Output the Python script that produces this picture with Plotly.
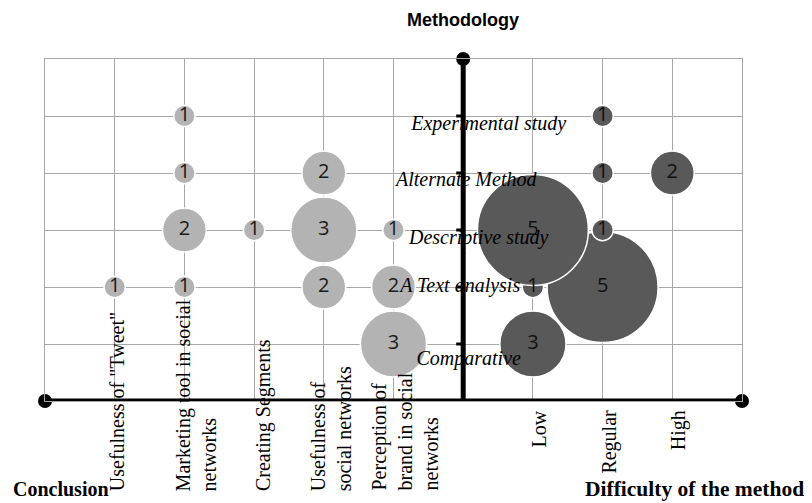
import plotly.graph_objects as go

# ---------------- data ----------------
conclusion_categories = ['Usefulness of "Tweet"',
                         'Marketing tool in social<br>networks',
                         'Creating Segments',
                         'Usefulness of<br>social networks',
                         'Perception of<br>brand in social<br>networks']
difficulty_categories = ['Low', 'Regular', 'High']
methodology_levels = ['Comparative', 'A Text analysis', 'Descriptive study',
                      'Alternate Method', 'Experimental study']

# Conclusion series (light bubbles): category index, methodology, count
conc_cat = [0, 1, 1, 1, 1, 2, 3, 3, 3, 4, 4, 4]
conc_meth = ['A Text analysis', 'Experimental study', 'Alternate Method', 'Descriptive study',
             'A Text analysis', 'Descriptive study', 'Alternate Method', 'Descriptive study',
             'A Text analysis', 'Descriptive study', 'A Text analysis', 'Comparative']
conc_count = [1, 1, 1, 2, 1, 1, 2, 3, 2, 1, 2, 3]

# Difficulty series (dark bubbles)
diff_cat = ['Regular', 'Low', 'Low', 'Low', 'Regular', 'Regular', 'Regular', 'High']
diff_meth = ['A Text analysis', 'A Text analysis', 'Comparative', 'Descriptive study',
             'Descriptive study', 'Alternate Method', 'Experimental study', 'Alternate Method']
diff_count = [5, 1, 3, 5, 1, 1, 1, 2]

# ---------------- layout helpers ----------------
# page body has an 8px margin, so the figure is 8px smaller and margins shifted
W, H = 804, 495
ML, MR, MT, MB = 37, 70, 51, 102
XMIN, XMAX, YMIN, YMAX = -6, 4, 0, 6
PXX = (W - ML - MR) / (XMAX - XMIN)
PXY = (H - MT - MB) / (YMAX - YMIN)

def conc_x(i):
    return i - 5

def diff_x(name):
    return difficulty_categories.index(name) + 1

def level_y(name):
    return methodology_levels.index(name) + 1

BUB = 22.4  # px diameter per unit count

fig = go.Figure()

fig.add_trace(go.Scatter(
    x=[conc_x(i) for i in conc_cat],
    y=[level_y(m) for m in conc_meth],
    mode='markers+text', text=[str(c) for c in conc_count],
    textposition='middle center',
    textfont=dict(family='Open Sans', size=20, color='#1a1a1a'),
    marker=dict(size=[c * BUB - 1 for c in conc_count], sizemode='diameter',
                color='#b3b3b3', opacity=1, line=dict(color='white', width=1.5)),
    showlegend=False, cliponaxis=False))

fig.add_trace(go.Scatter(
    x=[diff_x(c) for c in diff_cat],
    y=[level_y(m) for m in diff_meth],
    mode='markers+text', text=[str(c) for c in diff_count],
    textposition='middle center',
    textfont=dict(family='Open Sans', size=20, color='#111111'),
    marker=dict(size=[c * BUB - 1 for c in diff_count], sizemode='diameter',
                color='#595959', opacity=1, line=dict(color='white', width=1.5)),
    showlegend=False, cliponaxis=False))

# methodology labels (text trace above bubbles, below the black axes)
lab_dx = [5.5, -3, 15.5, 3, 25.5]
lab_dy = [-16, 0, -8.7, -7.6, -8.5]
fig.add_trace(go.Scatter(
    x=[dx / PXX for dx in lab_dx],
    y=[k + 1 + dy / PXY for k, dy in enumerate(lab_dy)],
    mode='text', text=methodology_levels, textposition='middle center',
    textfont=dict(family='Liberation Serif', size=20, color='black', style='italic'),
    hoverinfo='skip', showlegend=False, cliponaxis=False))

# axis end dots
fig.add_trace(go.Scatter(
    x=[XMIN, XMAX, 0], y=[0, 0, YMAX], mode='markers',
    marker=dict(size=14, color='black'), hoverinfo='skip',
    showlegend=False, cliponaxis=False))

shapes = []
shapes.append(dict(type='line', xref='x', yref='y', x0=XMIN, x1=XMAX, y0=0, y1=0,
                   line=dict(color='black', width=5), layer='above'))
shapes.append(dict(type='line', xref='x', yref='y', x0=0, x1=0, y0=-0.12, y1=YMAX,
                   line=dict(color='black', width=5), layer='above'))
tick_xs = [conc_x(i) for i in range(len(conclusion_categories))] + [0] + \
          [diff_x(c) for c in difficulty_categories]
for tx in tick_xs:
    shapes.append(dict(type='line', xref='x', yref='y', ysizemode='pixel', yanchor=0,
                       x0=tx, x1=tx, y0=-7, y1=0, line=dict(color='black', width=3),
                       layer='above'))
for k in range(len(methodology_levels)):
    shapes.append(dict(type='line', xref='x', yref='y', xsizemode='pixel', xanchor=0,
                       x0=-7, x1=0, y0=k + 1, y1=k + 1, line=dict(color='black', width=3),
                       layer='above'))

annotations = []
conc_shift = [2, 12, 9, 7, 11]
for i, lab in enumerate(conclusion_categories):
    annotations.append(dict(x=conc_x(i), y=0, xref='x', yref='y', text=lab,
                            textangle=-90, showarrow=False, align='left',
                            xanchor='center', yanchor='bottom',
                            xshift=conc_shift[i], yshift=-92,
                            font=dict(family='Liberation Serif', size=20, color='black')))
for c in difficulty_categories:
    annotations.append(dict(x=diff_x(c), y=0, xref='x', yref='y', text=c,
                            textangle=-90, showarrow=False,
                            xanchor='center', yanchor='top', xshift=6, yshift=-7,
                            font=dict(family='Liberation Serif', size=20, color='black')))

annotations.append(dict(x=0, y=1, xref='x', yref='paper', text='<b>Methodology</b>',
                        showarrow=False, xanchor='center', yanchor='middle', yshift=39,
                        font=dict(family='Liberation Sans', size=18, color='black')))
annotations.append(dict(x=0, y=0, xref='paper', yref='y', text='<b>Conclusion</b>',
                        showarrow=False, xanchor='left', yanchor='middle',
                        xshift=-34, yshift=-88,
                        font=dict(family='Liberation Serif', size=20, color='black')))
annotations.append(dict(x=1, y=0, xref='paper', yref='y', text='<b>Difficulty of the method</b>',
                        showarrow=False, xanchor='right', yanchor='middle',
                        xshift=64, yshift=-88,
                        font=dict(family='Liberation Serif', size=21.5, color='black')))

fig.update_layout(
    width=W, height=H,
    margin=dict(l=ML, r=MR, t=MT, b=MB),
    paper_bgcolor='white', plot_bgcolor='white',
    showlegend=False,
    shapes=shapes, annotations=annotations,
    xaxis=dict(range=[XMIN, XMAX], dtick=1, tick0=0, showgrid=True,
               gridcolor='#a8a8a8', gridwidth=1.3, zeroline=False,
               showticklabels=False, ticks='', showline=True, mirror=True,
               linecolor='#a8a8a8', linewidth=1.3, fixedrange=True),
    yaxis=dict(range=[YMIN, YMAX], dtick=1, tick0=0, showgrid=True,
               gridcolor='#a8a8a8', gridwidth=1.3, zeroline=False,
               showticklabels=False, ticks='', showline=True, mirror=True,
               linecolor='#a8a8a8', linewidth=1.3, fixedrange=True),
)

fig.write_html('out.html')
